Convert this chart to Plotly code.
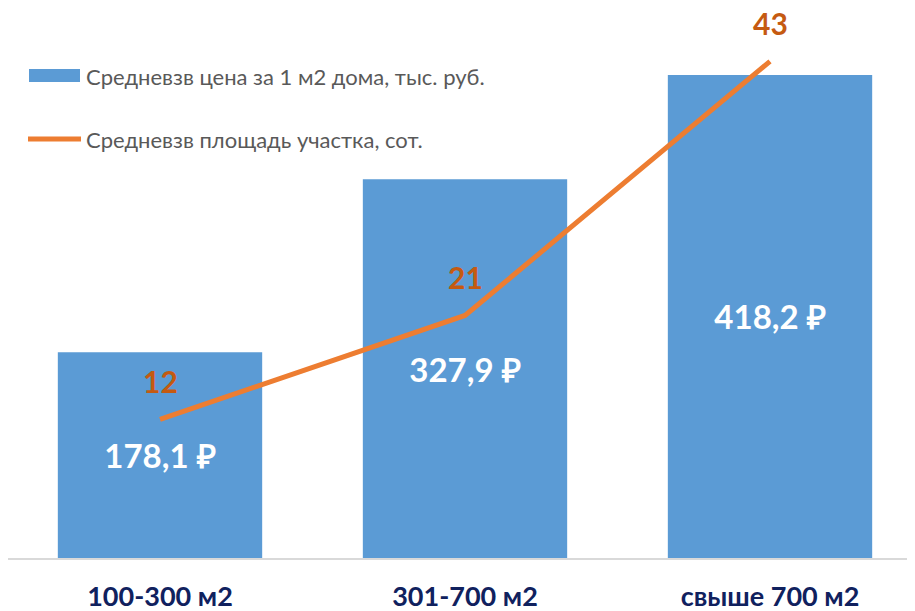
import plotly.graph_objects as go

categories = ["100-300 м2", "301-700 м2", "свыше 700 м2"]
price_values = [178.1, 327.9, 418.2]
area_values = [12, 21, 43]
series_names = ["Средневзв цена за 1 м2 дома, тыс. руб.", "Средневзв площадь участка, сот."]

# page body adds an 8px offset; work in window pixels and convert
OFF = 8
W, H = 915, 611
L, R, T = 0, 8, 0
BASE = 558 - OFF            # axis baseline in figure pixels
B = H - BASE
PW, PH = W - L - R, BASE - T

def px_x(p):
    return (p - OFF - L) / PW

def px_y(p):
    return (BASE - (p - OFF)) / PH

FONT = "Lato, Calibri, Carlito, sans-serif"

fig = go.Figure()
fig.add_trace(go.Bar(
    x=categories, y=price_values, name=series_names[0],
    marker=dict(color="#5B9BD5", line=dict(width=0)),
    width=0.67,
    texttemplate="%{y:.1f} ₽", textposition="inside", insidetextanchor="middle",
    textfont=dict(color="white", size=33, family=FONT, weight="bold"),
    showlegend=False,
))
fig.add_trace(go.Scatter(
    x=categories, y=area_values, name=series_names[1], yaxis="y2",
    mode="lines", line=dict(color="#ED7D31", width=5),
    showlegend=False,
))
for c, v in zip(categories, area_values):
    fig.add_annotation(x=c, y=v, xref="x", yref="y2", text=str(v), showarrow=False,
                       yshift=38, font=dict(color="#C55A11", size=30, family=FONT, weight="bold"))

# manual legend
fig.add_shape(type="rect", xref="paper", yref="paper",
              x0=px_x(29), x1=px_x(80), y0=px_y(82), y1=px_y(69),
              fillcolor="#5B9BD5", line=dict(width=0))
fig.add_shape(type="line", xref="paper", yref="paper",
              x0=px_x(28), x1=px_x(81), y0=px_y(139), y1=px_y(139),
              line=dict(color="#ED7D31", width=5))
for txt, yy in zip(series_names, [76, 139]):
    fig.add_annotation(xref="paper", yref="paper", x=px_x(84), y=px_y(yy), text=txt,
                       xanchor="left", yanchor="middle", showarrow=False,
                       font=dict(color="#595959", size=22, family=FONT))

x_left = -((160 - OFF - L) / 305)
x_right = 2 + (W - R - (770 - OFF)) / 305

fig.update_layout(
    width=W, height=H, margin=dict(l=L, r=R, t=T, b=B, autoexpand=False),
    paper_bgcolor="white", plot_bgcolor="white",
    separators=", ",
    xaxis=dict(range=[x_left, x_right], showgrid=False, showline=True, linecolor="#D9D9D9", linewidth=2,
               ticks="", ticklabelstandoff=14, automargin=False,
               tickfont=dict(color="#10215E", size=27, family=FONT, weight="bold")),
    yaxis=dict(range=[0, PH / 1.155], visible=False, showgrid=False, automargin=False),
    yaxis2=dict(range=[0, PH / 11.55], visible=False, overlaying="y", side="right",
                showgrid=False, automargin=False),
)
fig.write_html("out.html")
